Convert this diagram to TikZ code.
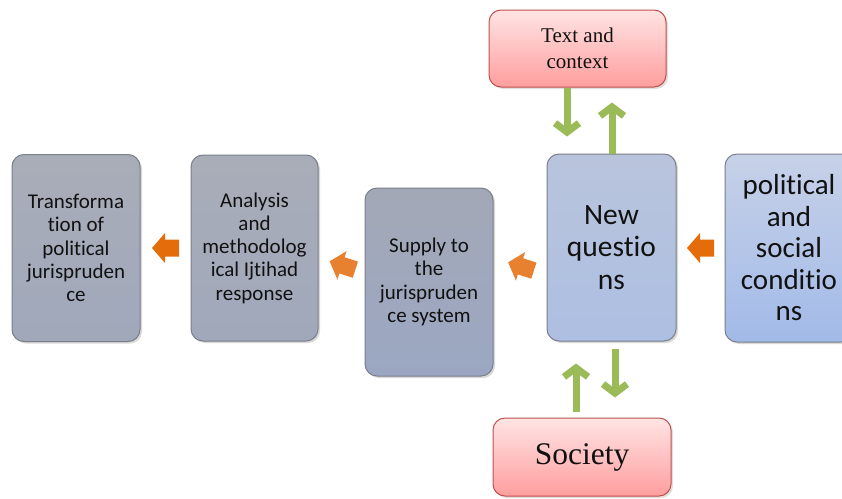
\documentclass[tikz,border=0pt]{standalone}
\usepackage{fontspec}
\setmainfont{Carlito}[Ligatures=NoCommon]
\newfontfamily\serifface{Liberation Serif}
\usetikzlibrary{arrows.meta,shadows}
\definecolor{boxgrayT}{HTML}{A9ADB8}
\definecolor{boxgrayB}{HTML}{A0A8BA}
\definecolor{boxbord}{HTML}{7A7F8C}
\definecolor{supT}{HTML}{A3A8B6}
\definecolor{supB}{HTML}{9BA7C2}
\definecolor{nqT}{HTML}{B9C4DC}
\definecolor{nqB}{HTML}{ADBFE2}
\definecolor{polT}{HTML}{C7D1E8}
\definecolor{polB}{HTML}{A2BAE8}
\definecolor{pinkT}{HTML}{FFE4E4}
\definecolor{pinkB}{HTML}{FF9E9E}
\definecolor{pinkbord}{HTML}{C0504D}
\definecolor{orarr}{HTML}{E46C0A}
\definecolor{orarr2}{HTML}{E8812F}
\definecolor{grarr}{HTML}{9BBB59}
\definecolor{txtc}{HTML}{111111}
\tikzset{
  stagebox/.style={draw=boxbord, line width=1pt, rounded corners=12pt, align=center,
    text=txtc, inner sep=0pt, shading=axis, shading angle=0,
    drop shadow={opacity=0.3, shadow xshift=2pt, shadow yshift=-2pt},
    font=\fontsize{21}{23.3}\selectfont},
  pinkbox/.style={draw=pinkbord, line width=1pt, rounded corners=12pt, align=center,
    text=txtc, inner sep=0pt, top color=pinkT, bottom color=pinkB,
    drop shadow={opacity=0.25, shadow xshift=2pt, shadow yshift=-2pt}},
  garrow/.style={draw=grarr, line width=7pt, -{Straight Barb[length=9pt,width=24pt,line width=7pt]}},
  blockarrow/.pic={\fill[#1] (-13.5,0) -- (-0.5,-15) -- (-0.5,-8.5) -- (13.5,-8.5) -- (13.5,8.5) -- (-0.5,8.5) -- (-0.5,15) -- cycle;},
}
\begin{document}
\begin{tikzpicture}[x=1pt,y=-1pt]
\useasboundingbox (0,0) rectangle (842,498);
\clip (0,0) rectangle (842,498);
\fill[white] (0,0) rectangle (842,498);

\node[stagebox, top color=boxgrayT, bottom color=boxgrayB, minimum width=128pt, minimum height=187pt] (b1) at (76,248)
  {Transforma\\tion of\\political\\jurispruden\\ce};
\node[stagebox, top color=boxgrayT, bottom color=boxgrayB, minimum width=127pt, minimum height=186pt] (b2) at (254.5,248)
  {Analysis\\and\\methodolog\\ical Ijtihad\\response};
\node[stagebox, top color=supT, bottom color=supB, minimum width=128pt, minimum height=188pt] (b3) at (429,282)
  {Supply to\\the\\jurispruden\\ce system};
\node[stagebox, top color=nqT, bottom color=nqB, minimum width=129pt, minimum height=187pt,
  font=\fontsize{29.5}{32.5}\selectfont] (b4) at (611.5,247.5)
  {New\\questio\\ns};
\node[stagebox, top color=polT, bottom color=polB, minimum width=128pt, minimum height=188pt,
  font=\fontsize{29}{31.5}\selectfont] (b5) at (789,248)
  {political\\and\\social\\conditio\\ns};

\node[pinkbox, minimum width=177pt, minimum height=77pt, font=\serifface\fontsize{21}{26}\selectfont] (txt) at (577.5,48.5)
  {Text and\\context};
\node[pinkbox, minimum width=178pt, minimum height=78pt, font=\serifface\fontsize{31.5}{34}\selectfont] (soc) at (582,457)
  {Society};

% orange block arrows
\pic at (165.5,248) {blockarrow=orarr};
\pic[rotate=-18] at (342.5,265.5) {blockarrow=orarr2};
\pic[rotate=-18] at (521,266.5) {blockarrow=orarr2};
\pic at (700.5,248) {blockarrow=orarr};

% green arrows
\coordinate (g1) at (567,0);
\coordinate (g2) at (612,0);
\coordinate (g3) at (576,0);
\coordinate (g4) at (615,0);
\draw[garrow, shorten >=17pt] (txt.south -| g1) -- (b4.north -| g1);
\draw[garrow, shorten >=15pt] (b4.north -| g2) -- (txt.south -| g2);
\draw[garrow, shorten <=6pt, shorten >=22pt] (soc.north -| g3) -- (b4.south -| g3);
\draw[garrow, shorten <=7pt, shorten >=20pt] (b4.south -| g4) -- (soc.north -| g4);
\end{tikzpicture}
\end{document}
